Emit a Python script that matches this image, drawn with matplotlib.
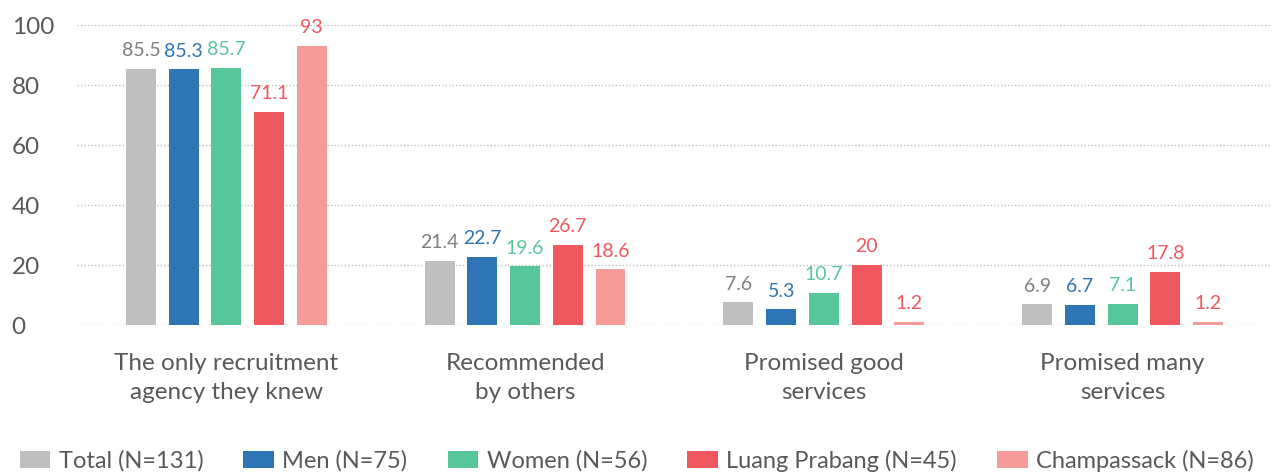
import numpy as np
from matplotlib import pyplot as plt

plt.rcParams['font.family'] = ['Lato', 'DejaVu Sans']

categories = ['The only recruitment\nagency they knew', 'Recommended\nby others',
              'Promised good\nservices', 'Promised many\nservices']
series = ['Total (N=131)', 'Men (N=75)', 'Women (N=56)', 'Luang Prabang (N=45)', 'Champassack (N=86)']
total = [85.5, 21.4, 7.6, 6.9]
men = [85.3, 22.7, 5.3, 6.7]
women = [85.7, 19.6, 10.7, 7.1]
luang = [71.1, 26.7, 20, 17.8]
champ = [93, 18.6, 1.2, 1.2]

bar_colors = ['#bfbfbf', '#2e75b6', '#57c79b', '#ee585e', '#f59c98']
label_colors = ['#7f7f7f', '#2e75b6', '#57c79b', '#ee585e', '#ee585e']

fig = plt.figure(figsize=(12.72, 4.74), dpi=100)
ax = fig.add_axes([0.0605, 0.314, 0.9395, 0.633])

x = np.arange(len(categories))
width = 0.1
step = 0.143
data = [total, men, women, luang, champ]
for i, vals in enumerate(data):
    pos = x + (i - 2) * step
    ax.bar(pos, vals, width, color=bar_colors[i], label=series[i], zorder=3)
    for p, v in zip(pos, vals):
        ax.annotate('%g' % v, (p, v), xytext=(0, 7), textcoords='offset points',
                    ha='center', va='bottom', fontsize=14, color=label_colors[i],
                    annotation_clip=False)

ax.set_xlim(-0.5, 3.5)
ax.set_ylim(0, 100)
ax.set_yticks(range(0, 101, 20))
ax.yaxis.grid(True, linestyle=(0, (1, 1.5)), color='#bfbfbf', linewidth=1, zorder=0)
ax.set_xticks(x)
ax.set_xticklabels(categories, fontsize=17.5, color='#595959', linespacing=1.45)
ax.tick_params(axis='x', length=0, pad=20)
ax.tick_params(axis='y', length=0, pad=47, labelsize=17.5, labelcolor='#595959')
for lbl in ax.get_yticklabels():
    lbl.set_horizontalalignment('left')
for s in ax.spines.values():
    s.set_visible(False)

fig.legend(loc='lower left', bbox_to_anchor=(0.008, -0.015), ncol=5, frameon=False,
           fontsize=17, labelcolor='#595959', handlelength=1.3, handleheight=0.7,
           handletextpad=0.35, columnspacing=1.7, borderaxespad=0)

fig.savefig('out.png', dpi=100)
